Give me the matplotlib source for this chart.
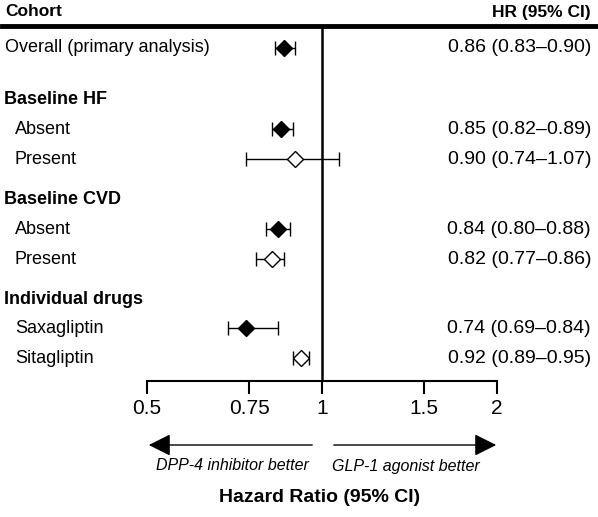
import matplotlib
matplotlib.use("Agg")
import matplotlib.pyplot as plt
import numpy as np

plt.rcParams['font.family'] = ['Liberation Sans', 'DejaVu Sans']

# ---- data ----
labels = ["Overall (primary analysis)", "Baseline HF", "Absent", "Present",
          "Baseline CVD", "Absent", "Present",
          "Individual drugs", "Saxagliptin", "Sitagliptin"]
kinds = ["row", "header", "sub", "sub", "header", "sub", "sub", "header", "sub", "sub"]
hr = [0.86, None, 0.85, 0.90, None, 0.84, 0.82, None, 0.74, 0.92]
lo = [0.83, None, 0.82, 0.74, None, 0.80, 0.77, None, 0.69, 0.89]
hi = [0.90, None, 0.89, 1.07, None, 0.88, 0.86, None, 0.84, 0.95]
filled = [True, None, True, False, None, True, False, None, True, False]
hr_text = ["0.86 (0.83\u20130.90)", "", "0.85 (0.82\u20130.89)", "0.90 (0.74\u20131.07)",
           "", "0.84 (0.80\u20130.88)", "0.82 (0.77\u20130.86)",
           "", "0.74 (0.69\u20130.84)", "0.92 (0.89\u20130.95)"]
xticks = [0.5, 0.75, 1, 1.5, 2]
xticklabels = ["0.5", "0.75", "1", "1.5", "2"]

W, H = 598, 517
fig = plt.figure(figsize=(W / 100, H / 100), dpi=100)

# layout (pixel rows)
ys = []
y = 48
prev = None
for k in kinds:
    if prev is not None:
        if k == "header":
            y += 52 if prev == "row" else 40
        elif prev == "header":
            y += 29.5
        else:
            y += 30
    ys.append(y)
    prev = k

x0, x1 = 147, 497
ytop, ybot = 27, 381
ax = fig.add_axes([x0 / W, 1 - ybot / H, (x1 - x0) / W, (ybot - ytop) / H])
ax.set_xscale('log')
ax.set_xlim(0.5, 2)
ax.set_ylim(ybot, ytop)
for s in ['top', 'right', 'left']:
    ax.spines[s].set_visible(False)
ax.spines['bottom'].set_linewidth(1.5)
ax.set_yticks([])
ax.set_xticks(xticks)
ax.set_xticklabels(xticklabels, fontsize=15)
ax.xaxis.set_minor_locator(matplotlib.ticker.NullLocator())
ax.tick_params(axis='x', direction='out', length=9, width=1.5, pad=4)
ax.patch.set_alpha(0)

# vertical line at 1
ax.axvline(1, color='black', lw=1.8, zorder=1)

# header line
fig.add_artist(plt.Line2D([2 / W, 596 / W], [1 - 26 / H, 1 - 26 / H], color='black', lw=3.5))
fig.text(5 / W, 1 - 12 / H, "Cohort", fontsize=12.5, fontweight='bold', va='center', ha='left')
fig.text(591 / W, 1 - 12 / H, "HR (95% CI)", fontsize=12.5, fontweight='bold', va='center', ha='right')

for lab, k, yy, h, l, u, f, t in zip(labels, kinds, ys, hr, lo, hi, filled, hr_text):
    yf = 1 - yy / H
    if k == "header":
        fig.text(4 / W, yf, lab, fontsize=13, fontweight='bold', va='center', ha='left')
        continue
    xl = 5 if k == "row" else 15
    fig.text(xl / W, yf, lab, fontsize=13, va='center', ha='left')
    fig.text(591 / W, yf, t, fontsize=14, va='center', ha='right')
    ax.errorbar([h], [yy], xerr=[[h - l], [u - h]], fmt='none', ecolor='black',
                elinewidth=1.0, capsize=5, capthick=1.0, zorder=2)
    ax.plot([h], [yy], marker='D', markersize=8.5, markerfacecolor='black' if f else 'white',
            markeredgecolor='black', markeredgewidth=1.0, zorder=3, linestyle='none')

# arrows
ya = 1 - 445 / H
fig.add_artist(matplotlib.patches.FancyArrowPatch((315 / W, ya), (146 / W, ya),
               transform=fig.transFigure, arrowstyle='-|>,head_length=0.9,head_width=0.45',
               mutation_scale=15, color='black', lw=1.0))
fig.add_artist(matplotlib.patches.FancyArrowPatch((331 / W, ya), (499 / W, ya),
               transform=fig.transFigure, arrowstyle='-|>,head_length=0.9,head_width=0.45',
               mutation_scale=15, color='black', lw=1.0))
fig.text(232 / W, 1 - 466 / H, "DPP-4 inhibitor better", fontsize=11.5, style='italic', ha='center', va='center')
fig.text(406 / W, 1 - 466 / H, "GLP-1 agonist better", fontsize=11.5, style='italic', ha='center', va='center')
fig.text(320 / W, 1 - 497 / H, "Hazard Ratio (95% CI)", fontsize=14, fontweight='bold', ha='center', va='center')

fig.savefig("out.png", dpi=100, facecolor='white')
